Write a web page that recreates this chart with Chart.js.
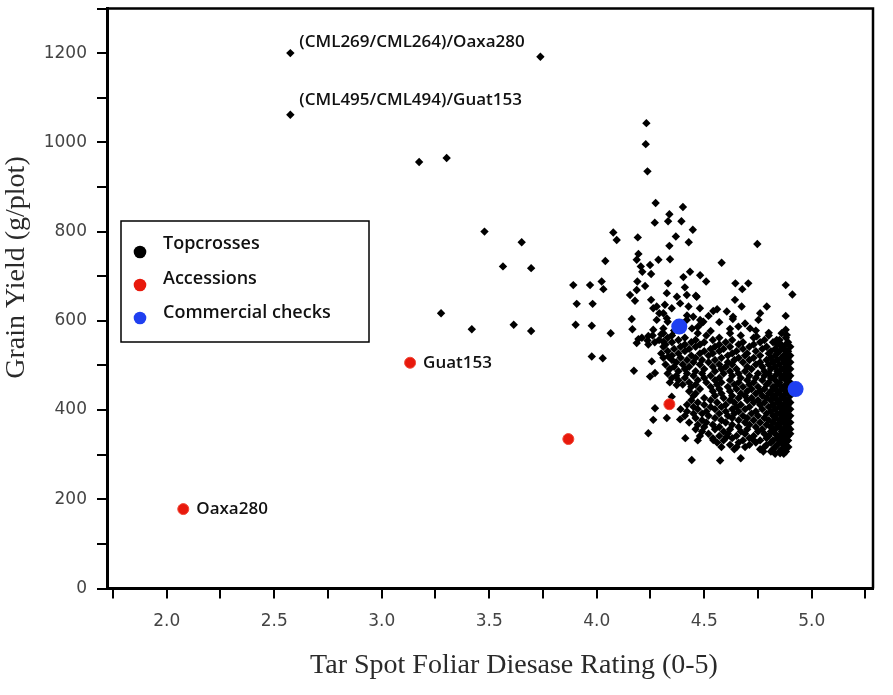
<!DOCTYPE html>
<html>
<head>
<meta charset="utf-8">
<script src="https://cdn.jsdelivr.net/npm/chart.js@4.4.1/dist/chart.umd.min.js"></script>
<style>
  html, body { margin: 0; padding: 0; background: #fff; }
</style>
</head>
<body>
<canvas id="chart" width="893" height="695"></canvas>
<script>
// sparse topcrosses (first and third are the labelled hybrids)
const topSparse = [
  [2.575, 1200], [3.738, 1192], [2.575, 1062], [3.174, 956], [3.302, 965], [3.478, 800], [3.651, 776],
  [3.564, 722], [3.695, 718], [3.891, 680], [3.907, 638], [3.902, 591], [3.276, 617], [3.419, 581],
  [3.614, 591], [3.695, 577],
  [4.231, 1043], [4.228, 996], [4.236, 935], [4.274, 864], [4.401, 855], [4.338, 839], [4.332, 823],
  [4.270, 820], [4.394, 823], [4.447, 804], [4.077, 798], [4.093, 781], [4.191, 787], [4.368, 789],
  [4.338, 768], [4.428, 776], [4.747, 772], [4.194, 750], [4.040, 734], [4.341, 738], [4.287, 737],
  [4.205, 722], [4.248, 725], [4.581, 730], [4.212, 710], [4.253, 705], [3.969, 680], [4.023, 688],
  [4.031, 671], [4.189, 688], [4.332, 684], [4.403, 698], [4.434, 710], [4.481, 702], [4.509, 688],
  [4.645, 684], [4.705, 684], [4.677, 671], [4.879, 680], [4.910, 659], [3.981, 638], [4.155, 658],
  [4.178, 645], [4.225, 678], [4.253, 647], [4.326, 662], [4.419, 658], [4.465, 654], [4.643, 647],
  [4.674, 632], [4.542, 622], [4.605, 621], [4.791, 632], [4.760, 617], [4.879, 611], [3.977, 589],
  [4.065, 572], [4.163, 604], [4.166, 581], [4.194, 559], [4.236, 556], [4.263, 580], [4.279, 632],
  [4.310, 617], [4.449, 609], [4.488, 595], [4.633, 604], [4.659, 587], [4.713, 583], [4.879, 580],
  [4.837, 557], [4.744, 565], [4.186, 737], [4.186, 669], [4.373, 654], [4.410, 675], [4.263, 628],
  [4.291, 617], [4.317, 636], [4.349, 628], [4.388, 639], [4.427, 632], [4.481, 602], [4.279, 602],
  [4.326, 606], [4.419, 602], [4.310, 583], [4.443, 583], [4.461, 656], [4.634, 609], [4.752, 602],
  [4.480, 628], [4.496, 598],
  [4.36, 578], [4.40, 592], [4.47, 586], [4.53, 577], [4.57, 597], [4.62, 582], [4.69, 594],
  [4.74, 578], [4.80, 573], [4.33, 598], [4.42, 612], [4.52, 611], [4.56, 626], [4.30, 570],
  [4.24, 566],
  [3.977, 520], [4.028, 516], [4.173, 488], [4.248, 475], [4.256, 509], [4.186, 550], [4.310, 553],
  [4.271, 483], [4.333, 520], [4.271, 404], [4.263, 378], [4.240, 348], [4.326, 382], [4.388, 379],
  [4.412, 337], [4.442, 288], [4.349, 430], [4.372, 456], [4.574, 287], [4.670, 292], [4.651, 317],
  [4.775, 307], [4.853, 303], [4.891, 317], [4.542, 333], [4.605, 340], [4.728, 333], [4.884, 568],
  [4.860, 546]
];

// dense part of the topcross cloud, read row by row: [yield, [ratings...]]
const topClusterRows = [
  [572, [4.31, 4.47, 4.62, 4.86]],
  [567, [4.26, 4.35, 4.51, 4.67, 4.80]],
  [562, [4.21, 4.33, 4.41, 4.57, 4.73, 4.88]],
  [557, [4.29, 4.38, 4.46, 4.54, 4.63, 4.78, 4.85]],
  [552, [4.27, 4.35, 4.44, 4.50, 4.60, 4.68, 4.76, 4.82, 4.89]],
  [547, [4.24, 4.32, 4.41, 4.48, 4.57, 4.66, 4.73, 4.84, 4.88]],
  [542, [4.31, 4.39, 4.46, 4.55, 4.62, 4.71, 4.79, 4.86, 4.90]],
  [537, [4.36, 4.43, 4.53, 4.59, 4.68, 4.77, 4.83, 4.87]],
  [532, [4.33, 4.41, 4.50, 4.57, 4.65, 4.74, 4.81, 4.85, 4.89]],
  [527, [4.30, 4.38, 4.48, 4.54, 4.63, 4.70, 4.80, 4.84, 4.88]],
  [522, [4.35, 4.44, 4.52, 4.61, 4.69, 4.76, 4.83, 4.87, 4.90]],
  [517, [4.31, 4.39, 4.46, 4.58, 4.66, 4.73, 4.81, 4.86, 4.89]],
  [512, [4.35, 4.42, 4.49, 4.55, 4.64, 4.71, 4.79, 4.84, 4.88]],
  [507, [4.37, 4.45, 4.52, 4.61, 4.68, 4.76, 4.82, 4.87, 4.90]],
  [502, [4.32, 4.40, 4.48, 4.57, 4.63, 4.74, 4.80, 4.85, 4.89]],
  [497, [4.36, 4.43, 4.54, 4.60, 4.70, 4.77, 4.83, 4.88]],
  [492, [4.34, 4.41, 4.50, 4.58, 4.65, 4.72, 4.81, 4.86, 4.90]],
  [487, [4.38, 4.46, 4.55, 4.62, 4.69, 4.78, 4.84, 4.88]],
  [482, [4.33, 4.42, 4.49, 4.59, 4.66, 4.75, 4.80, 4.85, 4.89]],
  [477, [4.37, 4.45, 4.53, 4.63, 4.71, 4.78, 4.83, 4.87, 4.90]],
  [472, [4.35, 4.41, 4.50, 4.57, 4.67, 4.74, 4.81, 4.86, 4.89]],
  [467, [4.38, 4.47, 4.55, 4.62, 4.70, 4.77, 4.83, 4.88]],
  [462, [4.34, 4.43, 4.51, 4.58, 4.66, 4.73, 4.80, 4.85, 4.90]],
  [457, [4.40, 4.46, 4.56, 4.64, 4.71, 4.79, 4.84, 4.88]],
  [452, [4.44, 4.53, 4.61, 4.68, 4.75, 4.82, 4.86, 4.89]],
  [447, [4.48, 4.57, 4.65, 4.72, 4.78, 4.83, 4.87, 4.90]],
  [442, [4.43, 4.54, 4.62, 4.70, 4.76, 4.81, 4.85, 4.89]],
  [437, [4.46, 4.58, 4.67, 4.74, 4.80, 4.84, 4.88]],
  [432, [4.45, 4.55, 4.63, 4.69, 4.77, 4.82, 4.86, 4.90]],
  [427, [4.50, 4.59, 4.66, 4.72, 4.79, 4.83, 4.87]],
  [422, [4.44, 4.53, 4.62, 4.70, 4.75, 4.81, 4.85, 4.89]],
  [417, [4.47, 4.56, 4.64, 4.73, 4.78, 4.84, 4.88, 4.90]],
  [412, [4.42, 4.50, 4.60, 4.67, 4.76, 4.82, 4.86, 4.89]],
  [407, [4.45, 4.53, 4.58, 4.65, 4.71, 4.80, 4.85, 4.88]],
  [402, [4.39, 4.47, 4.55, 4.63, 4.69, 4.77, 4.83, 4.87, 4.90]],
  [397, [4.42, 4.51, 4.60, 4.66, 4.74, 4.81, 4.86, 4.89]],
  [392, [4.45, 4.49, 4.57, 4.64, 4.72, 4.79, 4.84, 4.88]],
  [387, [4.41, 4.52, 4.61, 4.68, 4.75, 4.82, 4.86, 4.90]],
  [382, [4.46, 4.55, 4.63, 4.70, 4.78, 4.83, 4.87, 4.89]],
  [377, [4.49, 4.58, 4.66, 4.73, 4.80, 4.85, 4.88]],
  [372, [4.43, 4.51, 4.60, 4.69, 4.76, 4.82, 4.86, 4.90]],
  [367, [4.47, 4.54, 4.63, 4.71, 4.79, 4.84, 4.88]],
  [362, [4.50, 4.57, 4.66, 4.74, 4.81, 4.85, 4.89]],
  [357, [4.46, 4.55, 4.62, 4.70, 4.77, 4.83, 4.87, 4.90]],
  [352, [4.49, 4.59, 4.67, 4.75, 4.81, 4.86, 4.88]],
  [347, [4.52, 4.61, 4.69, 4.78, 4.83, 4.87, 4.90]],
  [342, [4.48, 4.57, 4.65, 4.73, 4.80, 4.85, 4.89]],
  [337, [4.54, 4.63, 4.71, 4.79, 4.84, 4.87]],
  [332, [4.47, 4.59, 4.68, 4.76, 4.82, 4.86, 4.89]],
  [327, [4.56, 4.66, 4.74, 4.81, 4.85, 4.88]],
  [322, [4.62, 4.71, 4.79, 4.84, 4.87]],
  [317, [4.58, 4.69, 4.78, 4.83, 4.88]],
  [312, [4.64, 4.76, 4.82, 4.86]],
  [307, [4.81, 4.85, 4.88]],
  [302, [4.83, 4.87]]
];

const accessions = [[2.077, 178], [3.132, 506], [3.868, 335], [4.338, 413]];
const accessionNames = ['Oaxa280', 'Guat153', '', ''];
const checks = [[4.384, 587], [4.925, 447]];
const topNames = ['(CML269/CML264)/Oaxa280', '', '(CML495/CML494)/Guat153'];

const seriesNames = ['Topcrosses', 'Accessions', 'Commercial checks'];
const seriesColors = ['#000000', '#e8190c', '#1f3ff0'];

const xTitle = 'Tar Spot Foliar Diesase Rating (0-5)';
const yTitle = 'Grain Yield (g/plot)';

const toXY = (p) => ({ x: p[0], y: p[1] });
const topcrosses = topSparse.map(toXY).concat(
    topClusterRows.flatMap(([y, xs]) => xs.map(x => ({ x: x, y: y }))));

const frameAndLegend = {
    id: 'frameAndLegend',
    afterDraw(chart) {
        const ctx = chart.ctx;
        const a = chart.chartArea;

        // top and right sides of the plot box
        ctx.save();
        ctx.strokeStyle = '#000';
        ctx.lineWidth = 2.5;
        ctx.beginPath();
        ctx.moveTo(a.left, a.top);
        ctx.lineTo(a.right, a.top);
        ctx.lineTo(a.right, a.bottom);
        ctx.stroke();

        // axis titles
        ctx.fillStyle = '#2a2a2a';
        ctx.font = '28px "Liberation Serif"';
        ctx.textAlign = 'center';
        ctx.textBaseline = 'middle';
        ctx.fillText(xTitle, a.left + 407, a.bottom + 77);
        ctx.save();
        ctx.translate(17, a.top + 259);
        ctx.rotate(-Math.PI / 2);
        ctx.fillText(yTitle, 0, 0);
        ctx.restore();

        // point labels
        ctx.textAlign = 'left';
        ctx.font = '600 17px "Open Sans"';
        ctx.fillStyle = '#111';
        const topMeta = chart.getDatasetMeta(0);
        const accMeta = chart.getDatasetMeta(1);
        const topOffsets = [[9, -11], null, [9, -15]];
        topNames.forEach((name, i) => {
            if (!name) return;
            const el = topMeta.data[i];
            ctx.fillText(name, el.x + topOffsets[i][0], el.y + topOffsets[i][1]);
        });
        accessionNames.forEach((name, i) => {
            if (!name) return;
            const el = accMeta.data[i];
            ctx.fillText(name, el.x + 13, el.y);
        });

        // legend box
        const lx = a.left + 14, ly = a.top + 212.5;
        ctx.fillStyle = '#fff';
        ctx.fillRect(lx, ly, 248, 121);
        ctx.lineWidth = 1.5;
        ctx.strokeRect(lx, ly, 248, 121);
        ctx.font = '600 18px "Open Sans"';
        seriesNames.forEach((name, i) => {
            ctx.fillStyle = seriesColors[i];
            ctx.beginPath();
            ctx.arc(lx + 19, ly + 31 + i * 33, 6.3, 0, Math.PI * 2);
            ctx.fill();
            ctx.fillStyle = '#111';
            ctx.fillText(name, lx + 42, ly + 23 + i * 34.5);
        });
        ctx.restore();
    }
};

new Chart(document.getElementById('chart'), {
    type: 'scatter',
    data: {
        datasets: [
            {
                label: seriesNames[0],
                data: topcrosses,
                pointStyle: 'rectRot',
                pointRadius: 4.2,
                backgroundColor: seriesColors[0],
                borderWidth: 0,
                order: 3
            },
            {
                label: seriesNames[1],
                data: accessions.map(toXY),
                pointRadius: 5.5,
                backgroundColor: seriesColors[1],
                borderColor: '#f04a3a',
                borderWidth: 1,
                order: 2
            },
            {
                label: seriesNames[2],
                data: checks.map(toXY),
                pointRadius: 8,
                backgroundColor: seriesColors[2],
                borderWidth: 0,
                order: 1
            }
        ]
    },
    options: {
        responsive: false,
        animation: false,
        layout: { padding: { left: 0, right: 20, top: 8.5, bottom: 0 } },
        plugins: {
            legend: { display: false },
            tooltip: { enabled: false }
        },
        scales: {
            x: {
                type: 'linear',
                min: 1.7223,
                max: 5.285,
                afterFit: (scale) => {
                    scale.height = 106.5;
                    scale.paddingLeft = 0;
                    scale.paddingRight = 0;
                },
                border: { display: true, color: '#000', width: 3 },
                grid: { drawOnChartArea: false, drawTicks: true, tickLength: 10, color: '#000', lineWidth: 2 },
                ticks: {
                    stepSize: 0.25,
                    includeBounds: false,
                    autoSkip: false,
                    maxRotation: 0,
                    padding: 13,
                    color: '#444',
                    font: { family: '"DejaVu Sans"', size: 17 },
                    callback: (v) => Math.abs(v * 2 - Math.round(v * 2)) < 1e-6 ? v.toFixed(1) : ''
                }
            },
            y: {
                type: 'linear',
                min: 0,
                max: 1300,
                afterFit: (scale) => {
                    scale.width = 107;
                    scale.paddingTop = 0;
                    scale.paddingBottom = 0;
                },
                border: { display: true, color: '#000', width: 3 },
                grid: { drawOnChartArea: false, drawTicks: true, tickLength: 10, color: '#000', lineWidth: 2 },
                ticks: {
                    stepSize: 100,
                    autoSkip: false,
                    padding: 10,
                    color: '#444',
                    font: { family: '"DejaVu Sans"', size: 17 },
                    callback: (v) => v % 200 === 0 ? String(v) : ''
                }
            }
        }
    },
    plugins: [frameAndLegend]
});
</script>
</body>
</html>
